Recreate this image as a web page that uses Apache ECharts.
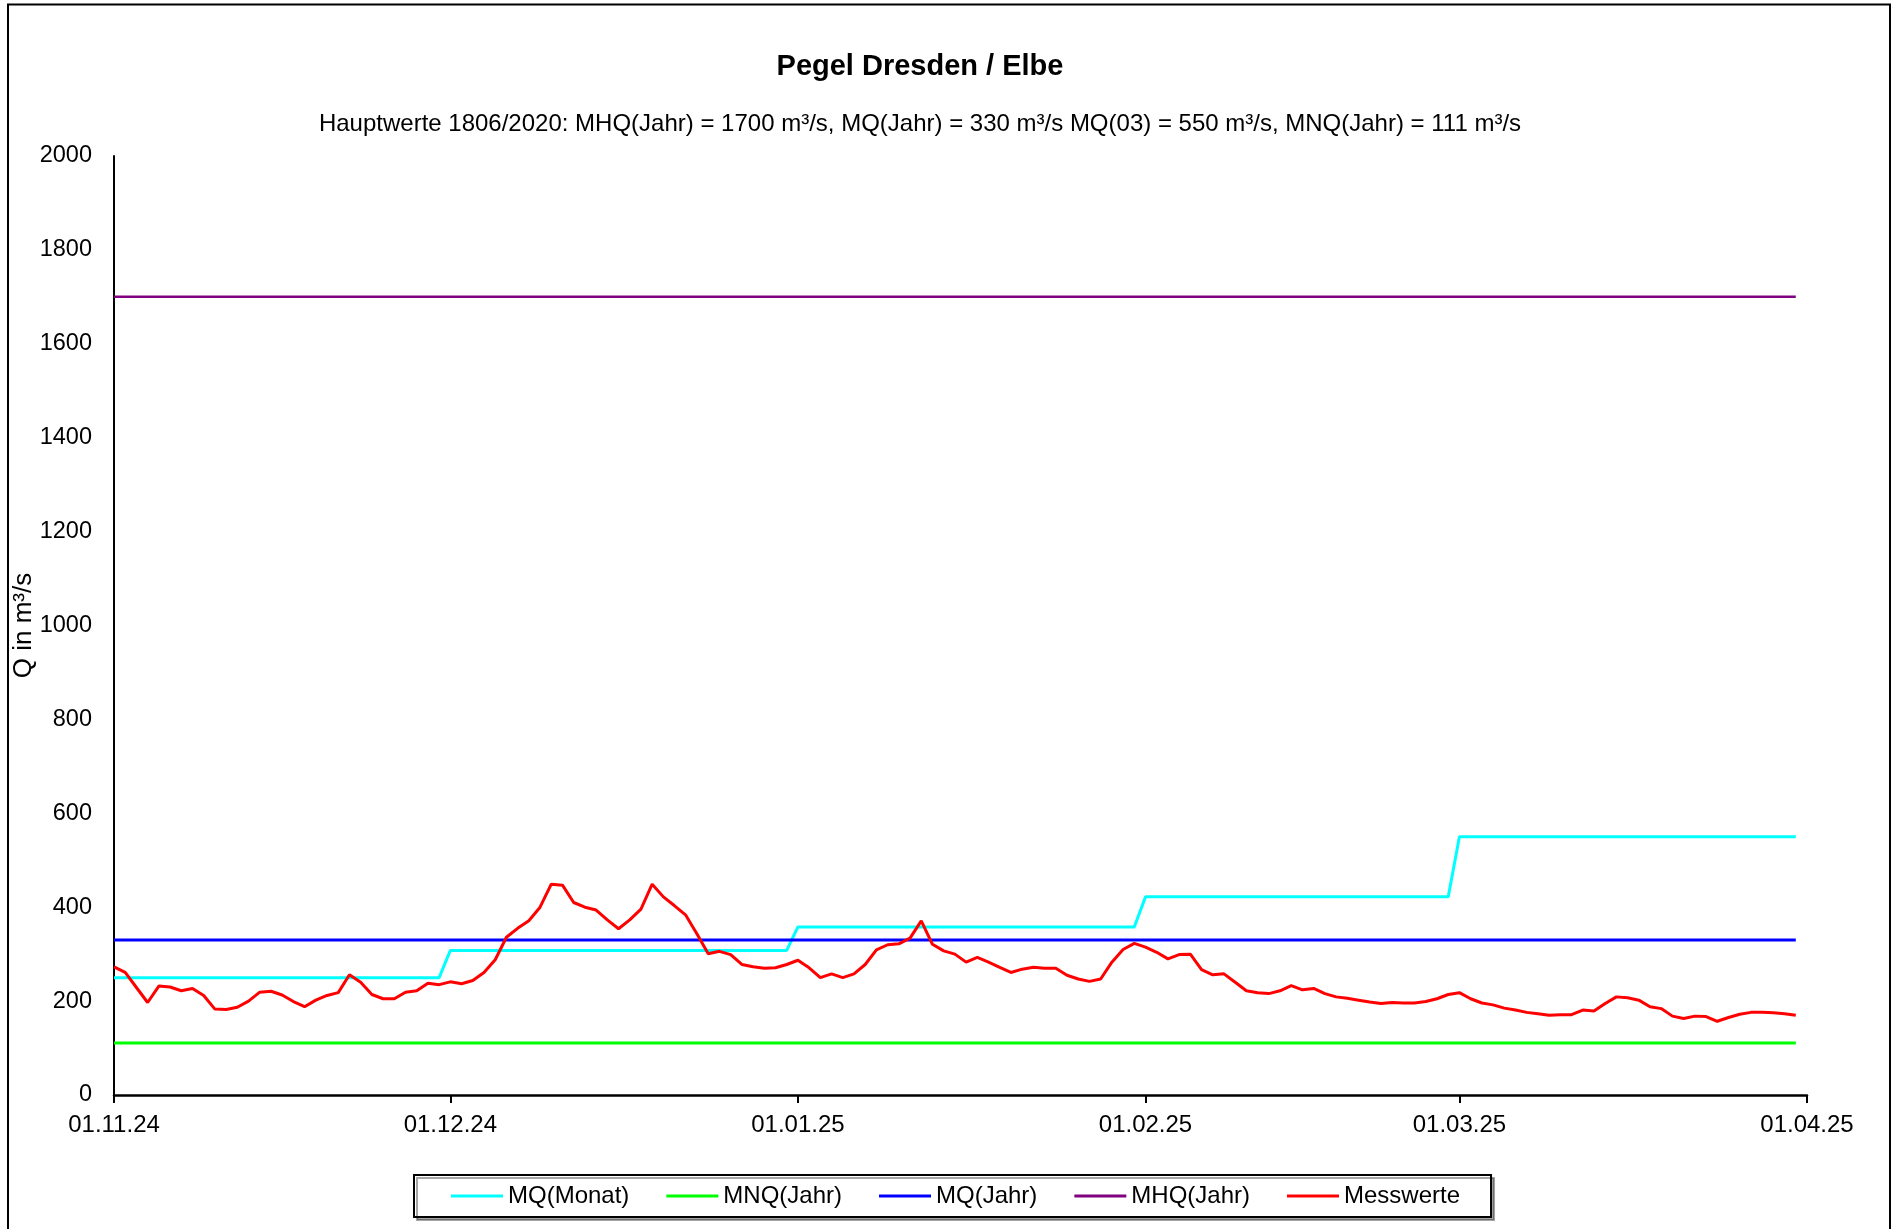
<!DOCTYPE html>
<html>
<head>
<meta charset="utf-8">
<script src="https://cdn.jsdelivr.net/npm/echarts@6/dist/echarts.min.js"></script>
<style>
html,body{margin:0;padding:0;background:#fff;}
#chart{width:1897px;height:1229px;}
</style>
</head>
<body>
<div id="chart"></div>
<script>
// ---- data ----
const startDate = [2024, 10, 1];   // 01.11.24 (month 0-based)
const dayCount = 152;              // 01.11.24 .. 01.04.25
const monthStartIdx = [0, 30, 61, 92, 120];
const lastDataIdx = 150;
const mqMonat = [250, 308, 358, 422, 550];
const mnqJahr = 111;
const mqJahr = 330;
const mhqJahr = 1700;
const yTicks = [0, 2000, 200];
const messwerte = [
 273,261,229,197,232,230,222,227,212,183,182,187,200,219,221,213,199,188,202,212,
 218,256,240,214,205,205,219,222,238,235,241,237,244,261,288,336,355,371,400,449,
 447,410,400,394,373,354,373,396,449,422,403,383,343,301,306,299,278,273,270,271,
 278,287,271,250,258,250,258,278,309,320,322,334,371,321,307,300,283,293,283,272,
 261,268,272,270,270,255,247,242,247,283,310,323,315,304,290,299,300,267,256,258,
 240,222,218,216,222,233,224,227,216,209,206,202,198,195,197,196,196,199,205,214,
 218,205,196,192,185,181,176,173,170,171,171,181,179,195,209,207,202,188,184,168,
 163,168,167,157,165,172,176,176,175,173,170
];
const titleText = 'Pegel Dresden / Elbe';
const subText = 'Hauptwerte 1806/2020: MHQ(Jahr) = 1700 m³/s, MQ(Jahr) = 330 m³/s MQ(03) = 550 m³/s, MNQ(Jahr) = 111 m³/s';

// ---- build ----
function pad(n){return (n<10?'0':'')+n;}
const categories = [];
for (let i = 0; i < dayCount; i++) {
  const d = new Date(startDate[0], startDate[1], startDate[2] + i);
  categories.push(pad(d.getDate()) + '.' + pad(d.getMonth()+1) + '.' + String(d.getFullYear()).slice(2));
}
const mqMonatData = [];
for (let m = 0; m < mqMonat.length; m++) {
  const s = monthStartIdx[m];
  const e = m + 1 < monthStartIdx.length ? monthStartIdx[m+1] - 1 : lastDataIdx;
  mqMonatData.push([s, mqMonat[m]], [e, mqMonat[m]]);
}
const constLine = v => [[0, v], [lastDataIdx, v]];
const isMonthStart = (idx, val) => String(val).slice(0,3) === '01.';

const FONT = '"Liberation Sans", Arial, sans-serif';
const chart = echarts.init(document.getElementById('chart'), null, {renderer:'canvas'});
chart.setOption({
  animation: false,
  backgroundColor: '#fff',
  textStyle: {fontFamily: FONT, color: '#000'},
  grid: {left: 114, right: 90, top: 156, bottom: 134, containLabel: false, outerBoundsMode: 'none'},
  graphic: [
    {type:'rect', shape:{x:8, y:4.5, width:1882, height:1240}, style:{fill:'none', stroke:'#000', lineWidth:2}, silent:true},
    {type:'text', x:920, y:66.5, style:{text:titleText, font:'bold 29px "Liberation Sans", Arial, sans-serif', fill:'#000', textAlign:'center', textVerticalAlign:'middle'}},
    {type:'text', x:920, y:124.5, style:{text:subText, font:'24px "Liberation Sans", Arial, sans-serif', fill:'#000', textAlign:'center', textVerticalAlign:'middle'}}
  ],
  legend: {
    left: 414, top: 1175,
    orient: 'horizontal',
    icon: 'rect', itemWidth: 52, itemHeight: 3, itemGap: 37,
    padding: [8, 31, 8, 37],
    borderColor: '#000', borderWidth: 2,
    backgroundColor: '#fff',
    shadowColor: 'rgba(0,0,0,0.35)', shadowOffsetX: 3, shadowOffsetY: 3, shadowBlur: 0,
    textStyle: {fontSize: 24, fontFamily: FONT, color: '#000', lineHeight: 26},
    data: ['MQ(Monat)', 'MNQ(Jahr)', 'MQ(Jahr)', 'MHQ(Jahr)', 'Messwerte']
  },
  xAxis: {
    type: 'category', data: categories, boundaryGap: false,
    axisLine: {show: true, onZero: false, lineStyle: {color: '#000', width: 2.5}},
    axisTick: {show: true, inside: false, length: 8, interval: isMonthStart, lineStyle: {color: '#000', width: 2}},
    axisLabel: {show: true, interval: isMonthStart, margin: 18, fontSize: 24, fontFamily: FONT, color: '#000'},
    splitLine: {show: false}
  },
  yAxis: {
    type: 'value', min: yTicks[0], max: yTicks[1], interval: yTicks[2],
    name: 'Q in m³/s', nameLocation: 'middle', nameGap: 77, nameRotate: 90, nameMoveOverlap: false,
    nameTextStyle: {fontSize: 26, fontFamily: FONT, color: '#000'},
    axisLine: {show: true, lineStyle: {color: '#000', width: 2}},
    axisTick: {show: false},
    axisLabel: {margin: 22, fontSize: 23.5, fontFamily: FONT, color: '#000', formatter: v => String(v)},
    splitLine: {show: false}
  },
  series: [
    {name:'MQ(Monat)', type:'line', data: mqMonatData, showSymbol:false, symbol:'none', lineStyle:{color:'#00FFFF', width:3}, itemStyle:{color:'#00FFFF'}},
    {name:'MNQ(Jahr)', type:'line', data: constLine(mnqJahr), showSymbol:false, symbol:'none', lineStyle:{color:'#00FF00', width:3}, itemStyle:{color:'#00FF00'}},
    {name:'MQ(Jahr)', type:'line', data: constLine(mqJahr), showSymbol:false, symbol:'none', lineStyle:{color:'#0000FF', width:3}, itemStyle:{color:'#0000FF'}},
    {name:'MHQ(Jahr)', type:'line', data: constLine(mhqJahr), showSymbol:false, symbol:'none', lineStyle:{color:'#800080', width:2.5}, itemStyle:{color:'#800080'}},
    {name:'Messwerte', type:'line', data: messwerte, showSymbol:false, symbol:'none', lineStyle:{color:'#FF0000', width:3}, itemStyle:{color:'#FF0000'}}
  ]
});
</script>
</body>
</html>
